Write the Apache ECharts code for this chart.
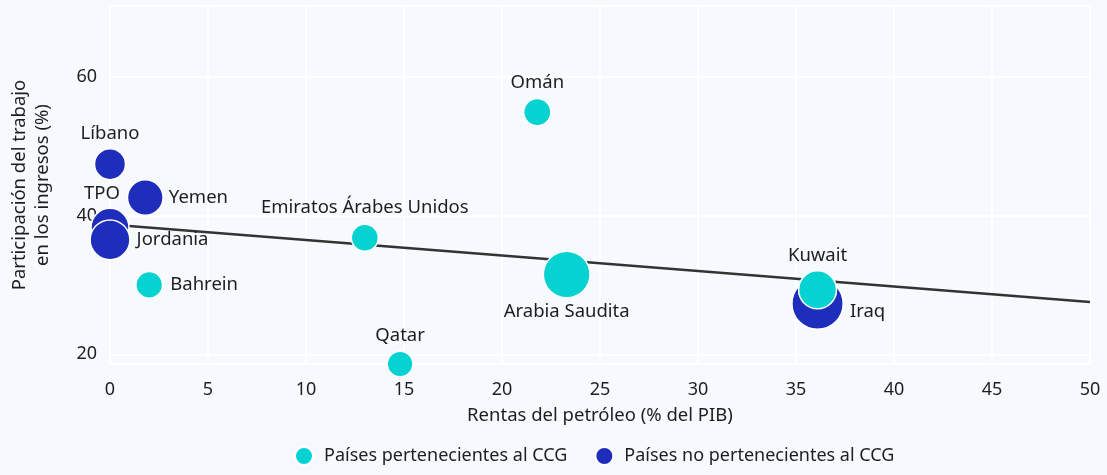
<!DOCTYPE html>
<html>
<head>
<meta charset="utf-8">
<script src="https://cdn.jsdelivr.net/npm/echarts@6/dist/echarts.min.js"></script>
<style>
    html, body { margin: 0; padding: 0; background: #f6f9fd; }
    #chart { width: 1107px; height: 475px; }
</style>
</head>
<body>
<div id="chart"></div>
<script>
// datos: países del CCG
const paisesCCG = ['Omán', 'Emiratos Árabes Unidos', 'Qatar', 'Bahrein', 'Arabia Saudita', 'Kuwait'];
const rentasCCG = [21.8, 13.0, 14.8, 2.0, 23.3, 36.1];
const trabajoCCG = [54.9, 36.8, 18.6, 30.0, 31.5, 29.3];
const pesoCCG = [7.4, 7.3, 6.6, 7.1, 21.8, 14.4];

// datos: países no pertenecientes al CCG
const paisesNoCCG = ['Líbano', 'Yemen', 'TPO', 'Jordania', 'Iraq'];
const rentasNoCCG = [0.0, 1.8, 0.0, 0.0, 36.1];
const trabajoNoCCG = [47.4, 42.6, 38.3, 36.5, 27.3];
const pesoNoCCG = [9.6, 12.7, 14.4, 15.8, 26.3];

// recta de tendencia
const tendenciaX = [0, 50];
const tendenciaY = [38.7, 27.55];

// marcas de los ejes
const marcasY = [20, 40, 60];

const nombreCCG = 'Países pertenecientes al CCG';
const nombreNoCCG = 'Países no pertenecientes al CCG';

(function () {
    let myChart = echarts.init(document.getElementById('chart'));
    const fuente = 'Noto Sans';
    const texto = '#1e1e1e';
    const tam = 18;

    // posición de cada etiqueta
    const etiquetas = {
        'Omán': { position: 'top', distance: 6 },
        'Emiratos Árabes Unidos': { position: 'top', distance: 6 },
        'Qatar': { position: 'top', distance: 5 },
        'Bahrein': { position: 'right', distance: 7 },
        'Arabia Saudita': { position: 'bottom', distance: 4 },
        'Kuwait': { position: 'top', distance: 5 },
        'Líbano': { position: 'top', distance: 5 },
        'Yemen': { position: 'right', distance: 5 },
        'TPO': { position: 'top', distance: 4, offset: [-8, 0] },
        'Jordania': { position: 'right', distance: 6 },
        'Iraq': { position: 'right', distance: 6, offset: [0, 8] }
    };

    function puntos(nombres, xs, ys, pesos) {
        return nombres.map(function (n, i) {
            return {
                name: n,
                value: [xs[i], ys[i], pesos[i]],
                symbolSize: 10 * Math.sqrt(pesos[i]),
                label: etiquetas[n]
            };
        });
    }

    const estiloEtiqueta = {
        show: true,
        formatter: '{b}',
        color: texto,
        fontFamily: fuente,
        fontSize: 18.5
    };

    let option = {
        backgroundColor: '#f6f9fd',
        animation: false,
        textStyle: { fontFamily: fuente },
        grid: {
            left: 110,
            right: 17,
            top: 6,
            bottom: 111,
            outerBoundsMode: 'none',
            containLabel: false,
            show: true,
            borderColor: '#ffffff',
            borderWidth: 2,
            backgroundColor: 'transparent'
        },
        legend: {
            bottom: 4,
            left: 289,
            icon: 'circle',
            itemWidth: 30,
            itemHeight: 18,
            itemGap: 27,
            data: [nombreCCG, nombreNoCCG],
            textStyle: { color: texto, fontSize: tam, fontFamily: fuente }
        },
        xAxis: {
            type: 'value',
            min: 0,
            max: 50,
            interval: 5,
            name: 'Rentas del petróleo (% del PIB)',
            nameLocation: 'middle',
            nameGap: 42,
            nameTextStyle: { color: texto, fontSize: 18.5, fontFamily: fuente },
            axisLine: { show: false },
            axisTick: { show: false },
            axisLabel: { color: texto, fontSize: tam, margin: 17 },
            splitLine: { lineStyle: { color: '#ffffff', width: 2 } }
        },
        yAxis: {
            type: 'value',
            min: 18.6,
            max: 70.2,
            name: 'Participación del trabajo\nen los ingresos (%)',
            nameLocation: 'middle',
            nameGap: 56,
            nameTextStyle: { color: texto, fontSize: 18.5, fontFamily: fuente, lineHeight: 23 },
            axisLine: { show: false },
            axisTick: { show: false, customValues: marcasY },
            axisLabel: { color: texto, fontSize: tam, margin: 13, customValues: marcasY },
            splitLine: { show: false }
        },
        series: [
            {
                // líneas horizontales de la cuadrícula
                name: 'cuadricula',
                type: 'line',
                data: [],
                silent: true,
                z: 1,
                markLine: {
                    silent: true,
                    z: 1,
                    symbol: ['none', 'none'],
                    label: { show: false },
                    lineStyle: { color: '#ffffff', width: 2, type: 'solid' },
                    data: marcasY.map(function (v) { return { yAxis: v }; })
                }
            },
            {
                name: 'tendencia',
                type: 'line',
                symbol: 'none',
                silent: true,
                z: 2,
                data: tendenciaX.map(function (x, i) { return [x, tendenciaY[i]]; }),
                lineStyle: { color: '#333333', width: 2.5 }
            },
            {
                name: nombreNoCCG,
                type: 'scatter',
                z: 3,
                data: puntos(paisesNoCCG, rentasNoCCG, trabajoNoCCG, pesoNoCCG),
                itemStyle: { color: '#1f2dbd', borderColor: '#ffffff', borderWidth: 1.5, opacity: 1 },
                label: estiloEtiqueta
            },
            {
                name: nombreCCG,
                type: 'scatter',
                z: 3,
                data: puntos(paisesCCG, rentasCCG, trabajoCCG, pesoCCG),
                itemStyle: { color: '#06d2d2', borderColor: '#ffffff', borderWidth: 1.5, opacity: 1 },
                label: estiloEtiqueta
            }
        ]
    };

    myChart.setOption(option);
    window.addEventListener('resize', function () {
        myChart.resize();
    });
})();
</script>
</body>
</html>
